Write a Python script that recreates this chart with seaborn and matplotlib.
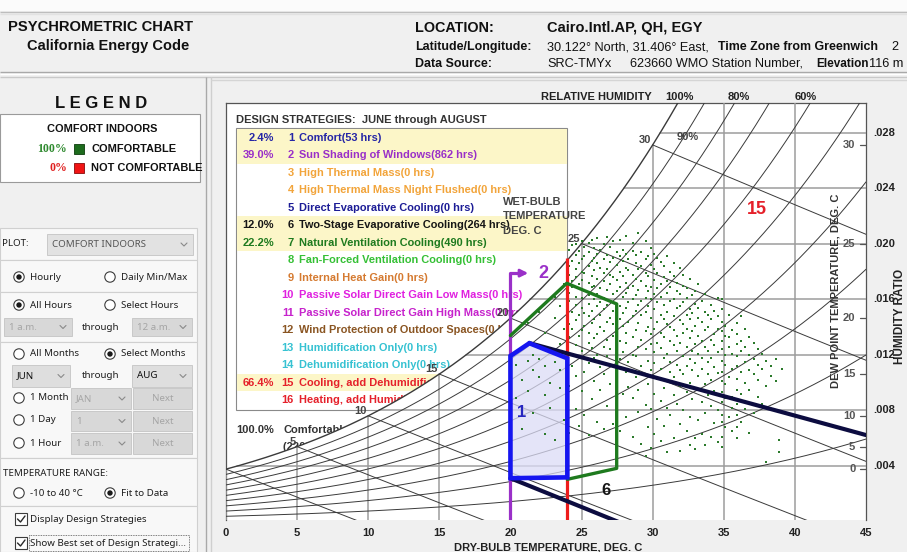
import numpy as np
import matplotlib
matplotlib.use("Agg")
import matplotlib.pyplot as plt
import seaborn as sns
from matplotlib.patches import Rectangle, Circle, Polygon
from matplotlib.transforms import Affine2D, blended_transform_factory

# ---------------------------------------------------------------- data
# hourly weather points, June-August: dry-bulb columns (degC) and the
# humidity ratios (g/kg) of the hours plotted in each column
column_T = [20.4, 20.8, 21.2, 21.6, 22.0, 22.4, 22.8, 23.1, 23.5, 23.8,
            24.1, 24.3, 24.6, 24.8, 25.0, 25.2, 25.5, 25.7, 25.9, 26.1,
            26.3, 26.6, 26.8, 27.0, 27.2, 27.5, 27.7, 27.9, 28.1, 28.3,
            28.6, 28.8, 29.0, 29.2, 29.5, 29.7, 29.9, 30.1, 30.3, 30.6,
            30.8, 31.0, 31.2, 31.5, 31.7, 31.9, 32.1, 32.4, 32.6, 32.8,
            33.0, 33.2, 33.5, 33.7, 33.9, 34.1, 34.3, 34.6, 34.9, 35.1,
            35.4, 35.6, 35.9, 36.2, 36.5, 36.8, 37.1, 37.4, 37.7, 38.0,
            38.3, 38.7, 38.9, 39.1]
column_W = [
    [8.9, 11.3],
    [10.2, 6.7, 12.4],
    [11.6, 9.4, 14.3],
    [7.8, 10.9, 12.0],
    [10.4, 11.7, 15.1],
    [6.3, 9.1, 11.2, 13.6],
    [10.0, 12.3, 8.2],
    [11.5, 5.9, 14.7, 16.2],
    [9.6, 12.8, 10.9, 15.5],
    [7.3, 11.8, 13.9, 17.1],
    [6.4, 9.8, 12.1, 13.3, 14.2, 15.9, 16.5, 17.8, 18.4, 19.6],
    [11.2, 13.9, 15.1, 16.9, 17.3, 18.8, 19.9],
    [8.1, 10.5, 12.7, 14.5, 15.6, 16.2, 17.6, 18.2, 19.2, 20.0],
    [6.9, 11.9, 13.4, 14.9, 16.8, 17.1, 18.6, 19.5],
    [9.4, 12.3, 13.8, 15.4, 16.1, 17.4, 18.0, 18.9, 20.2],
    [7.7, 10.8, 14.1, 15.0, 16.6, 17.9, 19.1, 19.8],
    [6.2, 11.4, 12.9, 13.6, 14.8, 15.7, 16.3, 17.2, 18.4, 19.4, 20.1],
    [8.8, 12.5, 14.3, 15.2, 16.9, 17.7, 18.8, 20.3],
    [10.1, 11.8, 13.2, 14.6, 16.0, 17.0, 18.1, 19.0, 19.7],
    [7.2, 12.0, 13.5, 15.5, 16.4, 17.5, 18.6, 19.3, 20.4],
    [9.5, 11.1, 14.0, 14.9, 15.8, 16.8, 18.3, 19.6],
    [6.7, 10.6, 12.6, 13.7, 15.3, 16.1, 17.3, 17.9, 18.9, 20.0],
    [8.3, 11.9, 13.1, 14.4, 15.6, 16.7, 18.2, 19.2, 20.5],
    [9.9, 12.4, 14.7, 15.9, 17.1, 17.8, 18.7, 19.8],
    [7.0, 11.3, 13.4, 14.2, 15.2, 16.4, 17.6, 19.0, 20.2],
    [8.6, 10.3, 12.8, 13.9, 15.7, 16.6, 17.4, 18.5, 19.4],
    [6.5, 11.7, 13.0, 14.6, 15.5, 16.9, 18.0, 19.1, 20.3],
    [9.2, 12.2, 14.1, 15.0, 16.2, 17.7, 18.8, 19.6],
    [7.5, 10.8, 12.9, 13.6, 15.4, 16.5, 17.2, 18.3, 19.3, 20.6],
    [9.7, 11.5, 14.4, 15.8, 16.8, 18.1, 18.9],
    [6.1, 8.9, 12.0, 13.3, 14.8, 16.0, 17.0, 17.8, 19.5, 20.1],
    [10.4, 11.9, 13.8, 15.2, 16.3, 17.5, 18.6, 19.2],
    [7.9, 9.5, 12.6, 14.3, 15.6, 16.7, 18.2, 20.8],
    [5.6, 11.2, 13.1, 14.9, 15.9, 17.3, 18.4, 19.4],
    [4.7, 8.4, 10.6, 12.4, 13.7, 15.1, 16.1, 17.0, 17.9, 18.9, 20.2],
    [6.8, 9.9, 11.6, 14.0, 15.5, 16.6, 17.7, 19.1],
    [5.3, 8.1, 10.9, 12.8, 13.5, 14.7, 16.0, 16.9, 18.5, 19.7],
    [6.3, 9.2, 11.4, 12.2, 13.9, 15.3, 16.4, 17.4, 18.2, 19.3],
    [7.4, 10.3, 12.9, 14.4, 15.8, 16.8, 17.9, 19.0],
    [5.8, 8.7, 11.0, 12.5, 13.6, 14.9, 16.2, 17.1, 18.7],
    [6.9, 9.6, 11.8, 13.3, 14.6, 15.6, 17.6, 18.4],
    [5.0, 8.2, 10.1, 12.1, 14.2, 15.1, 16.5, 17.3, 19.1],
    [7.7, 10.8, 11.5, 13.0, 14.0, 15.9, 16.9, 18.0],
    [6.0, 9.1, 10.4, 12.7, 13.8, 14.8, 16.0, 17.7, 18.6],
    [8.5, 11.3, 12.3, 13.4, 15.4, 16.6, 17.2],
    [5.1, 7.0, 9.8, 10.9, 12.9, 14.5, 15.5, 16.4, 18.3],
    [8.0, 10.6, 11.9, 13.6, 14.2, 15.8, 17.0, 17.8],
    [6.5, 9.3, 11.2, 12.6, 13.9, 14.9, 16.1, 16.8],
    [5.5, 7.5, 10.0, 11.7, 13.2, 14.6, 15.3, 17.5],
    [8.8, 10.9, 12.3, 13.7, 15.0, 16.3],
    [5.2, 6.0, 9.6, 11.4, 12.8, 14.1, 15.7, 16.6],
    [7.3, 10.5, 12.1, 13.4, 14.7, 15.4, 17.1],
    [6.3, 8.6, 11.0, 11.8, 13.0, 14.4, 15.9],
    [5.5, 7.8, 9.9, 12.6, 13.8, 15.1, 16.4],
    [9.1, 10.6, 11.5, 12.3, 14.0, 14.9],
    [6.1, 8.3, 10.2, 11.8, 13.1, 14.6, 15.6],
    [7.1, 9.4, 11.1, 12.7, 13.5, 15.2],
    [5.7, 8.0, 10.7, 12.2, 13.9, 14.8, 16.1],
    [5.4, 6.1, 7.2, 7.7, 8.6, 9.3, 10.1, 10.8, 11.6, 12.4, 13.0, 13.7, 14.4, 15.3, 16.0],
    [6.8, 8.9, 9.9, 11.3, 12.0, 13.4, 14.1],
    [7.5, 10.4, 12.6, 13.3, 14.9],
    [6.5, 8.2, 9.0, 11.0, 12.1, 13.8],
    [6.0, 6.8, 7.7, 8.5, 9.5, 10.3, 11.2, 11.9, 12.8, 13.5, 14.3],
    [7.2, 9.2, 10.8, 12.3, 13.0, 14.8],
    [8.1, 10.0, 11.5, 12.6, 13.9],
    [6.4, 9.5, 10.9, 12.0, 13.3],
    [7.8, 10.6, 11.7, 12.9],
    [9.0, 10.2, 11.3, 12.4],
    [8.5, 11.0, 12.1],
    [4.3, 9.8, 11.6],
    [10.5, 11.2],
    [11.7, 10.1],
    [5.0, 5.9],
    [11.0],
]

# design strategies
strategy_names = ["Comfort", "Sun Shading of Windows", "High Thermal Mass",
                  "High Thermal Mass Night Flushed", "Direct Evaporative Cooling",
                  "Two-Stage Evaporative Cooling", "Natural Ventilation Cooling",
                  "Fan-Forced Ventilation Cooling", "Internal Heat Gain",
                  "Passive Solar Direct Gain Low Mass", "Passive Solar Direct Gain High Mass",
                  "Wind Protection of Outdoor Spaces", "Humidification Only",
                  "Dehumidification Only", "Cooling, add Dehumidification if needed",
                  "Heating, add Humidification if needed"]
strategy_hours = [53, 862, 0, 0, 0, 264, 490, 0, 0, 0, 0, 0, 0, 0, 1466, 0]
strategy_colors = ["#2626a6", "#9a30c8", "#f2a43a", "#f2a43a", "#1c1c96", "#161616",
                   "#1e7a1e", "#35c035", "#d57a30", "#e020e0", "#c622cc", "#8a5522",
                   "#36c2d2", "#36c2d2", "#e5202a", "#e5202a"]
total_hours = 2208

# strategy zone outlines (dry-bulb degC, humidity ratio kg/kg)
comfort_T = [20.0, 20.0, 21.33, 24.0, 24.0]
comfort_W = [0.00312, 0.01193, 0.01285, 0.01176, 0.00318]
natvent_T = [20.0, 23.96, 27.47, 27.47, 24.0]
natvent_W = [0.01340, 0.01717, 0.01568, 0.00383, 0.00304]
evap_upper_T = [21.33, 45.0]
evap_upper_W = [0.01286, 0.00623]
evap_lower_T = [20.0, 28.0]
evap_lower_W = [0.00312, -0.0002]
shading_T, shading_top, shading_arrow = 20.0, 0.0179, 21.25
cooling_T, cooling_top = 24.0, 0.0190

x_ticks = list(range(0, 46, 5))
w_grid = [0.004, 0.008, 0.012, 0.016, 0.020, 0.024, 0.028]
w_grid_labels = [".004", ".008", ".012", ".016", ".020", ".024", ".028"]
dew_ticks = [0, 5, 10, 15, 20, 25, 30]
wetbulb_lines = [0, 5, 10, 15, 20, 25, 30]
wetbulb_labels = [5, 10, 15, 20, 25, 30]
rh_lines = [0.1, 0.2, 0.3, 0.4, 0.5, 0.6, 0.7, 0.8, 0.9, 1.0]

# ---------------------------------------------------------------- psychrometrics
P_ATM = 101.325


def psat(t):
    return 0.61094 * np.exp(17.625 * t / (t + 243.04))


def w_rh(t, rh):
    p = rh * psat(t)
    return 0.622 * p / (P_ATM - p)


def t_rh(w, rh):
    """dry-bulb temperature at which humidity ratio w has relative humidity rh"""
    pv = w * P_ATM / (0.622 + w) / rh
    a = np.log(pv / 0.61094)
    return 243.04 * a / (17.625 - a)


def w_wetbulb(twb, t):
    ws = w_rh(twb, 1.0)
    return ((2501 - 2.326 * twb) * ws - 1.006 * (t - twb)) / (2501 + 1.86 * t - 4.186 * twb)


# ---------------------------------------------------------------- figure
sns.set_theme(style="white")
plt.rcParams["font.family"] = ["Liberation Sans", "DejaVu Sans"]
UI = ["Noto Sans", "DejaVu Sans"]

FW, FH = 907, 552
fig = plt.figure(figsize=(FW / 100, FH / 100), dpi=100)
fig.patch.set_facecolor("#f0f0f0")
px = Affine2D().scale(1 / FW, -1 / FH).translate(0, 1) + fig.transFigure

bg = fig.add_axes([0, 0, 1, 1], zorder=0)
bg.set_xlim(0, FW)
bg.set_ylim(FH, 0)
bg.axis("off")


def hline(y, x0, x1, c, lw=1.0):
    bg.plot([x0, x1], [y, y], color=c, lw=lw, solid_capstyle="butt")


def vline(x, y0, y1, c, lw=1.0):
    bg.plot([x, x], [y0, y1], color=c, lw=lw, solid_capstyle="butt")


# header strip
bg.add_patch(Rectangle((0, 0), FW, 11, fc="#fbfbfb", ec="none"))
hline(11.5, 0, FW, "#bdbdbd")
hline(13.5, 0, FW, "#e2e2e2")
hline(71.5, 0, FW, "#a9a9a9")
hline(73.5, 0, FW, "#ffffff")
hline(76.5, 0, FW, "#c9c9c9")
vline(205.5, 77, FH, "#a9a9a9")
vline(210.5, 77, FH, "#cfcfcf")
hline(79.5, 211, FW, "#d5d5d5")

bg.text(8, 27, "PSYCHROMETRIC CHART", fontsize=10.6, weight="bold", color="#111", va="center")
bg.text(27, 46, "California Energy Code", fontsize=10.5, weight="bold", color="#111", va="center")
bg.text(415, 28, "LOCATION:", fontsize=10.4, weight="bold", color="#111", va="center")
bg.text(547, 28, "Cairo.Intl.AP, QH, EGY", fontsize=10.5, weight="bold", color="#111", va="center")
bg.text(415, 47, "Latitude/Longitude:", fontsize=8.9, weight="bold", color="#111", va="center")
bg.text(547, 47, "30.122\u00b0 North, 31.406\u00b0 East,", fontsize=9.2, color="#111", va="center")
bg.text(718, 47, "Time Zone from Greenwich", fontsize=8.9, weight="bold", color="#111", va="center")
bg.text(891, 47, "2", fontsize=9.2, color="#111", va="center")
bg.text(415, 64, "Data Source:", fontsize=8.9, weight="bold", color="#111", va="center")
bg.text(547, 64, "SRC-TMYx", fontsize=9.2, color="#111", va="center")
bg.text(630, 64, "623660 WMO Station Number,", fontsize=9.2, color="#111", va="center")
bg.text(816, 64, "Elevation", fontsize=8.5, weight="bold", color="#111", va="center")
bg.text(869, 64, "116 m", fontsize=9.2, color="#111", va="center")

# ---------------------------------------------------------------- left panel
bg.text(101, 103, "L E G E N D", fontsize=12, weight="bold", color="#111", ha="center", va="center")
bg.add_patch(Rectangle((0, 114), 200, 68, fc="white", ec="#9a9a9a", lw=0.8))
bg.text(102, 129, "COMFORT INDOORS", fontsize=7.9, weight="bold", color="#111", ha="center", va="center")
bg.text(67, 149, "100%", fontsize=8.6, weight="bold", color="#2f8a2f", ha="right", va="center",
        family=["Liberation Serif", "DejaVu Serif"])
bg.add_patch(Rectangle((74, 144), 10, 10, fc="#1d6b1d", ec="#0d3d0d", lw=0.6))
bg.text(91, 149, "COMFORTABLE", fontsize=7.9, weight="bold", color="#111", va="center")
bg.text(67, 168, "0%", fontsize=8.6, weight="bold", color="#e02020", ha="right", va="center",
        family=["Liberation Serif", "DejaVu Serif"])
bg.add_patch(Rectangle((74, 163), 10, 10, fc="#f01414", ec="#8a0a0a", lw=0.6))
bg.text(91, 168, "NOT COMFORTABLE", fontsize=7.9, weight="bold", color="#111", va="center")

for y0, y1 in [(228, 260), (260, 292), (292, 342), (342, 458), (458, 506), (506, 552)]:
    bg.add_patch(Rectangle((0, y0), 197, y1 - y0, fc="#f8f8f8", ec="#d0d0d0", lw=0.8))


def ui_text(x, y, s, c="#1e1e1e", ha="left", size=7.0):
    bg.text(x, y, s, fontsize=size, color=c, ha=ha, va="center", family=UI)


def radio(x, y, label, checked=False):
    bg.add_patch(Circle((x, y), 5.2, fc="white", ec="#3c3c3c", lw=0.8))
    if checked:
        bg.add_patch(Circle((x, y), 2.7, fc="#1a1a1a", ec="none"))
    ui_text(x + 11, y, label)


def chevron(x, y, c="#777"):
    bg.plot([x - 3, x, x + 3], [y - 1.5, y + 1.5, y - 1.5], color=c, lw=0.8)


def combo(x0, y0, x1, y1, label, tc, fc="#d8d8d8", arrow=True, center=False):
    bg.add_patch(Rectangle((x0, y0), x1 - x0, y1 - y0, fc=fc, ec="#c4c4c4", lw=0.6))
    if center:
        ui_text((x0 + x1) / 2, (y0 + y1) / 2, label, c=tc, ha="center")
    else:
        ui_text(x0 + 5, (y0 + y1) / 2, label, c=tc)
    if arrow:
        chevron(x1 - 9, (y0 + y1) / 2, "#8a8a8a")


ui_text(2, 244, "PLOT:")
combo(47, 234, 193, 255, "COMFORT INDOORS", "#555555", fc="#e2e2e2")
radio(19, 277, "Hourly", True)
radio(110, 277, "Daily Min/Max")
radio(19, 305, "All Hours", True)
radio(110, 305, "Select Hours")
combo(4, 318, 72, 336, "1 a.m.", "#a5a5a5")
ui_text(101, 327, "through", ha="center")
combo(132, 318, 192, 336, "12 a.m.", "#a5a5a5")
radio(19, 354, "All Months")
radio(110, 354, "Select Months", True)
combo(12, 365, 70, 387, "JUN", "#111111", fc="#dedede")
ui_text(101, 376, "through", ha="center")
combo(132, 365, 192, 387, "AUG", "#111111", fc="#dedede")
radio(19, 398, "1 Month")
combo(71, 388, 131, 409, "JAN", "#a5a5a5")
combo(133, 388, 192, 409, "Next", "#a5a5a5", arrow=False, center=True)
radio(19, 420, "1 Day")
combo(71, 411, 131, 431, "1", "#a5a5a5")
combo(133, 411, 192, 431, "Next", "#a5a5a5", arrow=False, center=True)
radio(19, 443, "1 Hour")
combo(71, 433, 131, 454, "1 a.m.", "#a5a5a5")
combo(133, 433, 192, 454, "Next", "#a5a5a5", arrow=False, center=True)
ui_text(3, 473, "TEMPERATURE RANGE:")
radio(19, 493, "-10 to 40 \u00b0C")
radio(110, 493, "Fit to Data", True)
for yy, label in [(519, "Display Design Strategies"), (543, "Show Best set of Design Strategi...")]:
    bg.add_patch(Rectangle((15, yy - 6), 12, 12, fc="white", ec="#3c3c3c", lw=0.8))
    bg.plot([17.5, 20.5, 25], [yy, yy + 3, yy - 3], color="#2a2a2a", lw=1.0)
    ui_text(30, yy, label)
bg.add_patch(Rectangle((29, 535), 160, 16, fc="none", ec="#555", lw=0.6, ls=(0, (1, 1))))

# ---------------------------------------------------------------- chart
ax = fig.add_axes([226 / FW, 1 - 520 / FH, 640 / FW, 417 / FH], zorder=1)
ax.set_facecolor("white")
W_BOT, W_TOP = 0.000108, 0.030162
ax.set_xlim(0, 45)
ax.set_ylim(W_BOT, W_TOP)

# design strategies table (drawn below the chart lines)
ax.text(236, 120, "DESIGN STRATEGIES:  JUNE through AUGUST", transform=px, fontsize=8,
        weight="bold", color="#333", va="center", zorder=1.2)
ax.add_patch(Rectangle((236, 128), 331, 282, transform=px, fc="white", ec="#8a8a8a",
                       lw=0.8, zorder=1))
row_y = [137.7 + i * 17.5 for i in range(16)]
for r0, r1 in [(0, 1), (5, 6), (14, 14)]:
    ax.add_patch(Rectangle((236.5, row_y[r0] - 8.75), 330, row_y[r1] - row_y[r0] + 17.5,
                           transform=px, fc="#fcf6c8", ec="none", zorder=1.05))
for i, (name, hrs, col) in enumerate(zip(strategy_names, strategy_hours, strategy_colors)):
    y = row_y[i]
    if hrs > 0:
        ax.text(274, y, f"{100 * hrs / total_hours:.1f}%", transform=px, fontsize=8,
                weight="bold", color=col, ha="right", va="center", zorder=1.2)
    ax.text(294, y, str(i + 1), transform=px, fontsize=8, weight="bold", color=col,
            ha="right", va="center", zorder=1.2)
    ax.text(299, y, f"{name}({hrs} hrs)", transform=px, fontsize=7.9, weight="bold",
            color=col, va="center", zorder=1.2)
ax.text(274, 430, "100.0%", transform=px, fontsize=8, weight="bold", color="#333",
        ha="right", va="center", zorder=1.2)
ax.text(283, 430, "Comfortable", transform=px, fontsize=8, weight="bold", color="#333",
        va="center", zorder=1.2)
ax.text(283, 447, f"({total_hours} hrs)", transform=px, fontsize=8, weight="bold",
        color="#333", va="center", zorder=1.2)

# chart area under the saturation curve
T = np.linspace(0, 45, 500)
ax.fill_between(T, 0, w_rh(T, 1.0), color="white", lw=0, zorder=2)

GRID = "#9c9c9c"
LINE = "#3a3a3a"
for tv in x_ticks[:-1]:
    ax.plot([tv, tv], [0, min(w_rh(tv, 1.0), W_TOP + 0.001)], color=GRID, lw=1.1, zorder=3)
for wv in w_grid:
    ax.plot([t_rh(wv, 1.0), 45], [wv, wv], color=GRID, lw=1.1, zorder=3)
for rh in rh_lines:
    ax.plot(T, w_rh(T, rh), color=LINE, lw=1.0 if rh == 1.0 else 0.7, zorder=3)
for twb in wetbulb_lines:
    tt = np.linspace(twb, 45, 200)
    ax.plot(tt, w_wetbulb(twb, tt), color=LINE, lw=0.7, zorder=3)
for twb in wetbulb_labels:
    ax.text(twb - 0.1, w_rh(twb, 1.0), str(twb), fontsize=8, weight="bold", color="#444",
            ha="right", va="bottom", zorder=6)

# 90% label on its curve
w90 = (521.5 - 137) / 13875
ax.text(t_rh(w90, 0.9) + 0.3, w90, "90%", fontsize=8, weight="bold", color="#444",
        ha="center", va="center", zorder=6)

# hourly points
hour_T = [t for t, ws in zip(column_T, column_W) for _ in ws]
hour_W = [w / 1000 for ws in column_W for w in ws]
sns.scatterplot(x=hour_T, y=hour_W, ax=ax, color="#2b7a2b", marker="s", s=3.2,
                linewidth=0, zorder=4)

# strategy zones
ax.add_patch(Polygon(list(zip(comfort_T, comfort_W)), closed=True, fc="#dcdcf6", ec="none",
                     alpha=0.75, zorder=3.5))
ax.plot([shading_T, shading_T, shading_arrow - 0.4], [0, shading_top, shading_top],
        color="#9a30c8", lw=2.3, zorder=5, solid_capstyle="butt")
ax.annotate("", xy=(shading_arrow, shading_top), xytext=(shading_arrow - 0.6, shading_top),
            arrowprops=dict(arrowstyle="-|>", color="#9a30c8", lw=2.0, mutation_scale=11,
                            shrinkA=0, shrinkB=0), zorder=5)
ax.plot([cooling_T, cooling_T], [0, cooling_top], color="#ee1c1c", lw=2.3, zorder=5,
        solid_capstyle="butt")
ax.plot(natvent_T, natvent_W, color="#1e7a1e", lw=2.4, zorder=5.1)
ax.plot(evap_upper_T, evap_upper_W, color="#0c0c40", lw=3.0, zorder=5.2)
ax.plot(evap_lower_T, evap_lower_W, color="#0c0c40", lw=3.0, zorder=5.2)
ax.add_patch(Polygon(list(zip(comfort_T, comfort_W)), closed=True, fc="none", ec="#1515f0",
                     lw=3.3, zorder=5.3, joinstyle="miter"))

ax.text(20.8, 0.00782, "1", fontsize=12, weight="bold", color="#2626c0", ha="center",
        va="center", zorder=6)
ax.text(22.3, 0.01784, "2", fontsize=13, weight="bold", color="#9a30c8", ha="center",
        va="center", zorder=6)
ax.text(26.7, 0.00220, "6", fontsize=12, weight="bold", color="#161616", ha="center",
        va="center", zorder=6)
ax.text(37.34, 0.02252, "15", fontsize=13, weight="bold", color="#e5202a", ha="center",
        va="center", zorder=6)
for yy, s in [(202, "WET-BULB"), (216, "TEMPERATURE"), (231, "DEG. C")]:
    ax.text(503, yy, s, transform=px, fontsize=8, weight="bold", color="#444", va="center",
            zorder=6)

# right-hand scales
for td in dew_ticks:
    wv = w_rh(td, 1.0)
    ax.text(44.25, wv, str(td), fontsize=8, weight="bold", color="#555", ha="right",
            va="center", zorder=6)
    ax.plot([44.55, 45], [wv, wv], color="#555", lw=0.9, zorder=6)
ax.text(835, 291, "DEW POINT TEMPERATURE, DEG. C", transform=px, fontsize=8,
        weight="bold", color="#333", ha="center", va="center", rotation=90, zorder=6)
tr = blended_transform_factory(ax.transAxes, ax.transData)
for wv, lab in zip(w_grid, w_grid_labels):
    ax.text(1.011, wv, lab, transform=tr, fontsize=8, weight="bold", color="#222",
            va="center", clip_on=False)

ax.set_xticks(x_ticks)
ax.set_xticklabels([str(v) for v in x_ticks], fontsize=8, fontweight="bold", color="#222")
ax.tick_params(axis="x", length=0, pad=6)
ax.set_yticks([])
ax.set_xlabel("")
ax.set_ylabel("")
ax.grid(False)
for side in ["top", "left", "right"]:
    ax.spines[side].set_color("#555")
    ax.spines[side].set_linewidth(0.9)
ax.spines["bottom"].set_visible(False)

bg.text(548, 547, "DRY-BULB TEMPERATURE, DEG. C", fontsize=8, weight="bold", color="#222",
        ha="center", va="center")
bg.text(596, 97, "RELATIVE HUMIDITY", fontsize=8, weight="bold", color="#222",
        ha="center", va="center")
for rh, lab, dx in [(1.0, "100%", 2), (0.8, "80%", 4), (0.6, "60%", -5)]:
    xx = 226 + t_rh(W_TOP, rh) * 640 / 45 + dx
    bg.text(xx, 97, lab, fontsize=8, weight="bold", color="#222", ha="center", va="center")
bg.text(900, 316, "HUMIDITY RATIO", fontsize=8.5, weight="bold", color="#222",
        ha="center", va="center", rotation=90)

fig.savefig("out.png", dpi=100, facecolor=fig.get_facecolor())
